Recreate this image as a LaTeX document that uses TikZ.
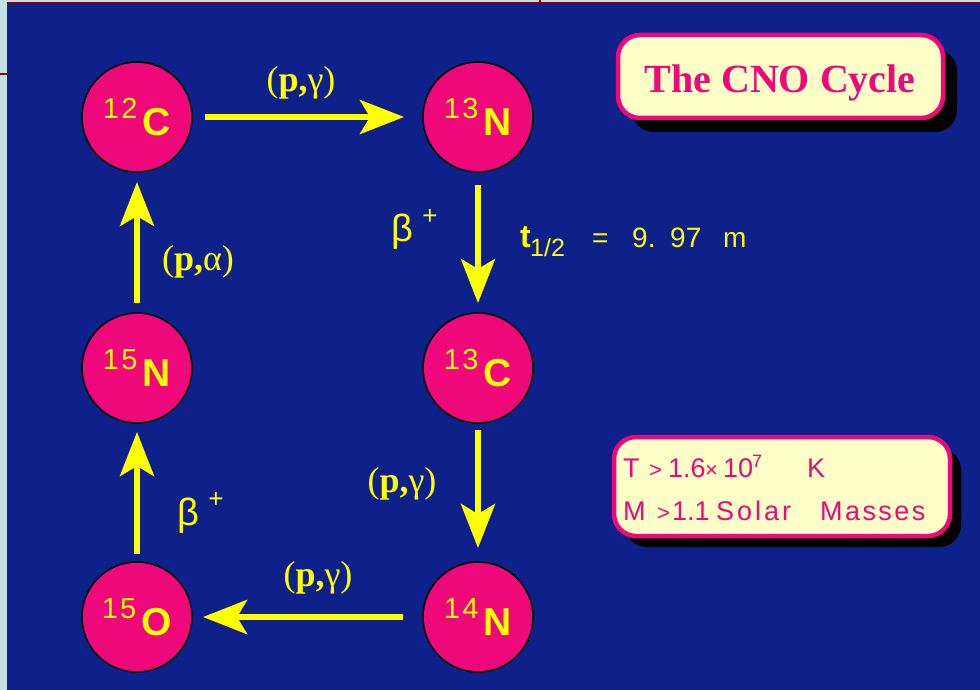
\documentclass[tikz,border=0pt]{standalone}
\usepackage{fontspec}
\setmainfont{Liberation Serif}
\setsansfont{Liberation Sans}
\usetikzlibrary{arrows.meta,shadows}
\definecolor{bgblue}{RGB}{14,32,138}
\definecolor{nucpink}{RGB}{238,8,122}
\definecolor{yel}{RGB}{255,255,0}
\definecolor{cream}{RGB}{255,255,200}
\definecolor{framelight}{RGB}{192,224,226}
\definecolor{framered}{RGB}{140,0,0}
\newcommand\isotope[2]{\makebox[40pt][l]{\fontsize{29}{29}\selectfont\addfontfeature{LetterSpace=8}\raisebox{17pt}{#1}}{\fontsize{39}{39}\selectfont\bfseries #2}}
\begin{document}
\begin{tikzpicture}[x=1pt,y=-1pt,
  nuc/.style={circle,draw=black,line width=1.5pt,fill=nucpink,minimum size=110pt,inner sep=0pt,outer sep=0pt,text=yel,font=\sffamily},
  flow/.style={draw=yel,line width=6pt,-{Stealth[length=44pt,width=34pt,inset=10pt]}},
  rxn/.style={text=yel,inner sep=0pt,font=\fontsize{36}{36}\selectfont},
  betasym/.style={text=yel,inner sep=0pt,font=\sffamily\fontsize{38}{38}\selectfont},
  plussym/.style={text=yel,inner sep=0pt,font=\sffamily\fontsize{26}{26}\selectfont},
  infobox/.style={draw=nucpink,line width=4.5pt,fill=cream,rounded corners=22pt,inner sep=0pt},
  condtext/.style={text=nucpink,anchor=base west,inner sep=0pt,font=\sffamily\fontsize{27}{27}\selectfont},
]
\useasboundingbox (0,0) rectangle (980,690);
% frame and background
\fill[framelight] (0,0) rectangle (980,690);
\fill[bgblue] (7.5,2.5) rectangle (980,690);
\draw[framered,line width=1.6pt] (7.5,690) -- (7.5,2.5) -- (980,2.5);
\draw[framered,line width=1.6pt] (0,74) -- (7.5,74);
\draw[framered,line width=1.6pt] (540,0) -- (540,2.5);

% nuclei
\node[nuc] (c12) at (137,117) {\isotope{12}{C}};
\node[nuc] (n13) at (478,117) {\isotope{13}{N}};
\node[nuc] (c13) at (478,368) {\isotope{13}{C}};
\node[nuc] (n14) at (478,617) {\isotope{14}{N}};
\node[nuc] (o15) at (137,617) {\isotope{15}{O}};
\node[nuc] (n15) at (137,368) {\isotope{15}{N}};

% reactions
\draw[flow,shorten <=13pt,shorten >=19pt] (c12) -- (n13);
\draw[flow,shorten <=13pt,shorten >=10pt] (n13) -- (c13);
\draw[flow,shorten <=7pt,shorten >=14pt] (c13) -- (n14);
\draw[flow,shorten <=20pt,shorten >=11pt] (n14) -- (o15);
\draw[flow,shorten <=8pt,shorten >=9pt] (o15) -- (n15);
\draw[flow,shorten <=10pt,shorten >=10pt] (n15) -- (c12);

% labels
\node[rxn] (r1) at (301,83) {(\textbf{p,}γ)};
\node[rxn] (r2) at (198,262) {(\textbf{p,}α)};
\node[rxn] (r3) at (402,484) {(\textbf{p,}γ)};
\node[rxn] (r4) at (318,578) {(\textbf{p,}γ)};
\node[betasym] (b1) at (402,232) {β};
\node[plussym] (b1p) at (430,217) {+};
\node[betasym] (b2) at (188,516) {β};
\node[plussym] (b2p) at (216,500) {+};

\node[text=yel,font=\sffamily\fontsize{28}{28}\selectfont,anchor=base west,inner sep=0pt] (half) at (520,247)
  {\makebox[10pt][l]{\fontsize{32}{32}\selectfont\bfseries t}\makebox[62pt][l]{\raisebox{-9pt}{\fontsize{25}{25}\selectfont 1/2}}\makebox[40pt][l]{=}\makebox[38pt][l]{9.}\makebox[53pt][l]{97}m};

% title box
\node[infobox,minimum width=325pt,minimum height=83pt,
  drop shadow={fill=black,opacity=1,shadow xshift=14pt,shadow yshift=-14pt}] (title) at (780.5,76.5) {};
\node[text=nucpink,font=\fontsize{40}{40}\selectfont\bfseries,anchor=base,inner sep=0pt] (titletext) at (780,93) {The CNO Cycle};

% conditions box
\node[infobox,minimum width=336pt,minimum height=99pt,
  drop shadow={fill=black,opacity=1,shadow xshift=11pt,shadow yshift=-11pt}] (cond) at (782,486.5) {};
\node[condtext] (condT) at (623,477)
  {\makebox[26pt][l]{T}\makebox[19pt][l]{\fontsize{22}{22}\selectfont >}\makebox[37pt][l]{1.6}\makebox[18pt][l]{\fontsize{22}{22}\selectfont ×}\makebox[29pt][l]{10}\makebox[55pt][l]{\raisebox{10pt}{\fontsize{18}{18}\selectfont 7}}K};
\node[condtext] (condM) at (623,520)
  {\makebox[34pt][l]{M}\makebox[15pt][l]{\fontsize{22}{22}\selectfont >}\makebox[44pt][l]{1.1}\makebox[104pt][l]{\addfontfeature{LetterSpace=11}Solar}{\addfontfeature{LetterSpace=9}Masses}};
\end{tikzpicture}
\end{document}
